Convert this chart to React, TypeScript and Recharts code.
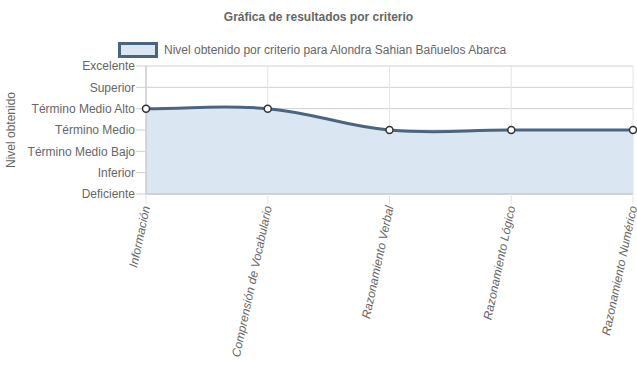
import { ComposedChart, Area, XAxis, YAxis, CartesianGrid } from 'recharts'

const criteria = ['Información', 'Comprensión de Vocabulario', 'Razonamiento Verbal', 'Razonamiento Lógico', 'Razonamiento Numérico']
const levels = ['Deficiente', 'Inferior', 'Término Medio Bajo', 'Término Medio', 'Término Medio Alto', 'Superior', 'Excelente']
const scores = [4, 4, 3, 3, 3]

const title = 'Gráfica de resultados por criterio'
const seriesName = 'Nivel obtenido por criterio para Alondra Sahian Bañuelos Abarca'

const FONT = "'Liberation Sans', Arial, Helvetica, sans-serif"
const TEXT = '#666'
const LINE = '#4a6582'
const FILL = '#dae6f2'

// chart.js style spline (tension 0.4) as a d3 curve factory
type Pt = { x: number; y: number }
function controls(prev: Pt, cur: Pt, next: Pt, t: number) {
  const d01 = Math.hypot(cur.x - prev.x, cur.y - prev.y)
  const d12 = Math.hypot(next.x - cur.x, next.y - cur.y)
  let s01 = d01 / (d01 + d12)
  let s12 = d12 / (d01 + d12)
  if (isNaN(s01)) s01 = 0
  if (isNaN(s12)) s12 = 0
  const fa = t * s01
  const fb = t * s12
  return {
    prev: { x: cur.x - fa * (next.x - prev.x), y: cur.y - fa * (next.y - prev.y) },
    next: { x: cur.x + fb * (next.x - prev.x), y: cur.y + fb * (next.y - prev.y) },
  }
}

class SplineCurve {
  _context: any
  _pts: Pt[] = []
  _line: number = NaN
  constructor(context: any) {
    this._context = context
  }
  areaStart() { this._line = 0 }
  areaEnd() { this._line = NaN }
  lineStart() { this._pts = [] }
  point(x: number, y: number) { this._pts.push({ x: +x, y: +y }) }
  lineEnd() {
    const pts = this._pts
    const n = pts.length
    const ctx = this._context
    if (n > 0) {
      if (this._line) ctx.lineTo(pts[0].x, pts[0].y)
      else ctx.moveTo(pts[0].x, pts[0].y)
      const c = pts.map((p, i) => controls(pts[Math.max(0, i - 1)], p, pts[Math.min(n - 1, i + 1)], 0.4))
      for (let i = 1; i < n; i++) {
        ctx.bezierCurveTo(c[i - 1].next.x, c[i - 1].next.y, c[i].prev.x, c[i].prev.y, pts[i].x, pts[i].y)
      }
    }
    if (this._line || (this._line !== 0 && n === 1)) ctx.closePath()
    this._line = 1 - this._line
  }
}
const chartJsCurve = (context: any) => new SplineCurve(context)

const data = criteria.map((c, i) => ({ name: c, value: scores[i] }))

function XTick({ x, y, payload }: any) {
  return (
    <g transform={`translate(${x},${y})`}>
      <text x={0} y={0} dy="0.35em" textAnchor="end" transform="rotate(-78)" fill={TEXT}
        fontSize={12} fontStyle="italic" fontFamily={FONT}>
        {payload.value}
      </text>
    </g>
  )
}

function YLabel({ viewBox }: any) {
  const x = viewBox.x + 11
  const y = viewBox.y + viewBox.height / 2
  return (
    <text x={x} y={y} transform={`rotate(-90 ${x} ${y})`} textAnchor="middle" dominantBaseline="central"
      fill={TEXT} fontSize={12} fontFamily={FONT}>
      Nivel obtenido
    </text>
  )
}

export default function App() {
  return (
    <div style={{ position: 'absolute', left: 0, top: 0, width: 637, height: 389, background: '#fff', fontFamily: FONT }}>
      <div style={{ position: 'absolute', top: 10, left: 0, width: 637, textAlign: 'center', fontSize: 12, fontWeight: 'bold', color: TEXT }}>
        {title}
      </div>
      <div style={{ position: 'absolute', top: 42, left: 118, display: 'flex', alignItems: 'center', fontSize: 12, color: TEXT }}>
        <span style={{ display: 'inline-block', width: 34, height: 10, background: FILL, border: `3px solid ${LINE}`, marginRight: 6 }} />
        <span>{seriesName}</span>
      </div>
      <ComposedChart width={637} height={389} data={data} margin={{ top: 66, right: 4, bottom: 0, left: 0 }}>
        <CartesianGrid vertical={false} stroke="#cfcfcf" />
        <CartesianGrid horizontal={false} stroke="#e4e4e4" />
        <XAxis dataKey="name" type="category" scale="point" padding={{ left: 0, right: 0 }} height={195}
          interval={0} tick={<XTick />} tickSize={10} tickLine={{ stroke: '#e4e4e4' }} axisLine={{ stroke: '#bdbdbd' }} />
        <YAxis type="number" domain={[0, 6]} ticks={[0, 1, 2, 3, 4, 5, 6]} width={146} interval={0}
          tickFormatter={(v: number) => levels[v]} tickSize={10} tickMargin={1}
          tick={{ fill: TEXT, fontSize: 12, fontFamily: FONT }} tickLine={{ stroke: '#cfcfcf' }} axisLine={{ stroke: '#bdbdbd' }}
          label={<YLabel />} />
        <Area type={chartJsCurve as any} dataKey="value" stroke={LINE} strokeWidth={3} fill={FILL} fillOpacity={1}
          dot={{ r: 3.5, fill: '#fff', stroke: '#333', strokeWidth: 1.5 }} activeDot={false} isAnimationActive={false} />
      </ComposedChart>
    </div>
  )
}
